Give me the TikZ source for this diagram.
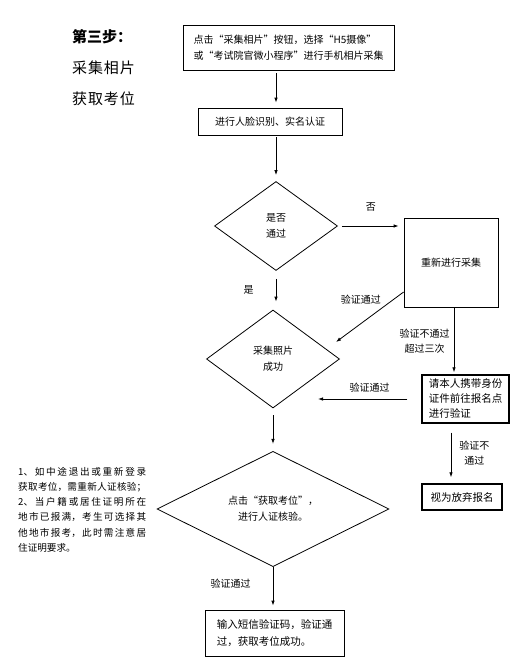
\documentclass[tikz,border=0pt]{standalone}
\usepackage{fontspec}
\setmainfont{Noto Sans CJK SC}
\usetikzlibrary{shapes.geometric, arrows.meta, positioning}
\XeTeXlinebreaklocale "zh"
\XeTeXlinebreakskip=0pt plus 3pt

\tikzset{
  box/.style={draw, line width=0.8pt, inner sep=3pt, font=\fontsize{10}{16}\selectfont},
  thickbox/.style={box, line width=1.4pt},
  dia/.style={draw, diamond, line width=0.8pt, inner sep=0pt, align=center, font=\fontsize{10}{16}\selectfont},
  arr/.style={-{Latex[length=5pt,width=3.5pt]}, line width=0.8pt, shorten <=4pt, shorten >=5pt},
  lbl/.style={align=center, inner sep=0pt, font=\fontsize{10}{15}\selectfont},
  head/.style={anchor=west, inner sep=0pt, font=\fontsize{15}{18}\selectfont\addfontfeatures{LetterSpace=6}},
}

\begin{document}
\begin{tikzpicture}[x=1pt, y=-1pt]
  \useasboundingbox (0,0) rectangle (523,669);
  % left side headings
  \node[head, font=\fontsize{15}{18}\selectfont\bfseries] (step)  at (72,37) {第三步：};
  \node[head] (shoot) at (72,68) {采集相片};
  \node[head] (seat0) at (72,99) {获取考位};

  % main column
  \node[box, minimum width=211pt, minimum height=45pt, align=left] (upload) at (288.5,47.5)
    {点击“采集相片”按钮，选择“H5摄像”\\或“考试院官微小程序”进行手机相片采集};
  \node[box, minimum width=144pt, minimum height=27pt] (face) at (270,121.5) {进行人脸识别、实名认证};
  \node[dia, minimum width=123pt, minimum height=89pt] (pass) at (276,226) {是否\\通过};
  \node[box, minimum width=94pt, minimum height=89pt] (redo) at (451,262.5) {重新进行采集};
  \node[dia, minimum width=133pt, minimum height=98pt] (photo) at (273,359) {采集照片\\成功};
  \node[thickbox, minimum width=87pt, minimum height=48pt, align=left, font=\fontsize{10.5}{15}\selectfont] (visit) at (465.5,399)
    {请本人携带身份\\证件前往报名点\\进行验证};
  \node[thickbox, minimum width=80pt, minimum height=26pt, font=\fontsize{10.5}{15}\selectfont] (quit) at (462,497) {视为放弃报名};
  \node[dia, minimum width=232pt, minimum height=104pt] (seat) at (273,509) {点击“获取考位”，\\进行人证核验。};
  \node[box, minimum width=139pt, minimum height=46pt, align=left, font=\fontsize{10.5}{17}\selectfont] (sms) at (274.5,633)
    {输入短信验证码，验证通\\过，获取考位成功。};

  % side note
  \node[anchor=north west, inner sep=0pt, text width=128pt, align=justify, font=\fontsize{9.6}{15.2}\selectfont] (note) at (18,467)
    {1、如中途退出或重新登录\linebreak 获取考位，需重新人证核验；\linebreak 2、当户籍或居住证明所在\linebreak 地市已报满，考生可选择其\linebreak 他地市报考，此时需注意居\linebreak 住证明要求。};

  % free ends of the two slanted/short connectors
  \coordinate (okend)  at (336,342);
  \coordinate (okend2) at (318,399);

  % connectors
  \draw[arr, shorten <=3pt] (upload.south -| pass) -- (face.north -| pass);
  \draw[arr, shorten <=2pt, shorten >=6pt] (face.south -| pass) -- (pass.north);
  \draw[arr] (pass.east) -- (redo.west |- pass.east) node[lbl, midway, above=14pt] {否};
  \draw[arr, shorten <=8pt, shorten >=8pt] (pass.south) -- (pass.south |- photo.north)
    node[lbl, midway, left=22pt] {是};
  \draw[arr, shorten <=0pt, shorten >=0pt] ([yshift=-29.5pt]redo.west) -- (okend)
    node[lbl, pos=0.3, above left=2pt and 2pt] {验证通过};
  \draw[arr, shorten <=0pt, shorten >=2pt] ([xshift=3pt]redo.south) -- ([xshift=3pt]redo.south |- visit.north)
    node[lbl, midway, left=4pt] {验证不通过\\超过三次};
  \draw[arr, shorten <=14pt, shorten >=0pt] (visit.west) -- (okend2)
    node[lbl, midway, above=6pt] {验证通过};
  \draw[arr, shorten <=7pt, shorten >=7pt] (photo.south) -- (seat.north);
  \draw[arr, shorten <=9pt, shorten >=6pt] ([xshift=-14.5pt]visit.south) -- ([xshift=-14.5pt]visit.south |- quit.north)
    node[lbl, midway, right=8pt] {验证不\\通过};
  \draw[arr, shorten <=0pt, shorten >=4pt] (seat.south) -- (sms.north -| seat.south)
    node[lbl, pos=0.4, left=22pt] {验证通过};
\end{tikzpicture}
\end{document}
